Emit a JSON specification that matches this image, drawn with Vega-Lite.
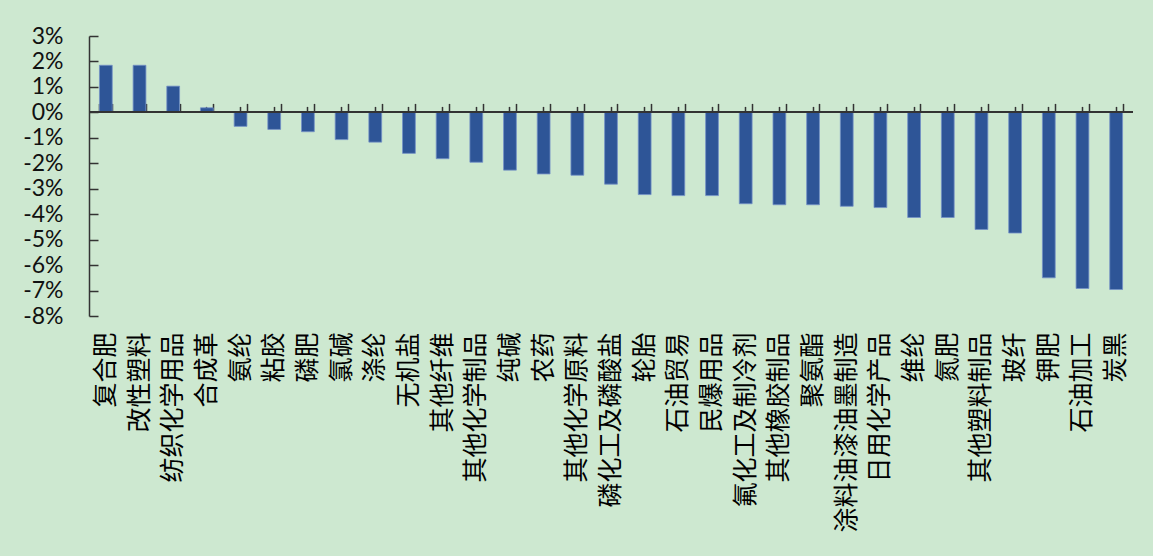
{
  "$schema": "https://vega.github.io/schema/vega-lite/v6.json",
  "width": 1044,
  "height": 280,
  "autosize": {"type": "none"},
  "padding": {"left": 89, "top": 36, "right": 20, "bottom": 240},
  "background": "#cde8d0",
  "config": {
    "view": {"stroke": null},
    "axis": {"grid": false},
    "axisY": {
      "labelOverlap": false,
      "labelFont": "Lato", "labelFontSize": 23, "labelColor": "#111",
      "domainColor": "#333", "domainWidth": 1.5,
      "tickColor": "#333", "tickWidth": 1.5, "tickSize": -9, "labelPadding": 35,
      "title": null
    }
  },
  "data": {
    "values": [
      {"industry": "复合肥", "change": 0.0185},
      {"industry": "改性塑料", "change": 0.0185},
      {"industry": "纺织化学用品", "change": 0.0103},
      {"industry": "合成革", "change": 0.0018},
      {"industry": "氨纶", "change": -0.0055},
      {"industry": "粘胶", "change": -0.0067},
      {"industry": "磷肥", "change": -0.0076},
      {"industry": "氯碱", "change": -0.0107},
      {"industry": "涤纶", "change": -0.0117},
      {"industry": "无机盐", "change": -0.0161},
      {"industry": "其他纤维", "change": -0.0182},
      {"industry": "其他化学制品", "change": -0.0196},
      {"industry": "纯碱", "change": -0.0227},
      {"industry": "农药", "change": -0.0242},
      {"industry": "其他化学原料", "change": -0.0247},
      {"industry": "磷化工及磷酸盐", "change": -0.0282},
      {"industry": "轮胎", "change": -0.0323},
      {"industry": "石油贸易", "change": -0.0327},
      {"industry": "民爆用品", "change": -0.0327},
      {"industry": "氟化工及制冷剂", "change": -0.0359},
      {"industry": "其他橡胶制品", "change": -0.0363},
      {"industry": "聚氨酯", "change": -0.0363},
      {"industry": "涂料油漆油墨制造", "change": -0.0369},
      {"industry": "日用化学产品", "change": -0.0374},
      {"industry": "维纶", "change": -0.0413},
      {"industry": "氮肥", "change": -0.0413},
      {"industry": "其他塑料制品", "change": -0.046},
      {"industry": "玻纤", "change": -0.0474},
      {"industry": "钾肥", "change": -0.065},
      {"industry": "石油加工", "change": -0.0692},
      {"industry": "炭黑", "change": -0.0696}
    ]
  },
  "layer": [
    {
      "mark": {"type": "bar", "color": "#2e5597", "stroke": "#7391c6", "strokeWidth": 0.8},
      "encoding": {
        "x": {
          "field": "industry", "type": "nominal", "sort": null,
          "scale": {"paddingInner": 0.62, "paddingOuter": 0.31},
          "axis": {
            "title": null, "labelAngle": -90, "labelFont": "Noto Sans CJK SC",
            "labelFontSize": 25, "labelColor": "#000", "labelPadding": 16,
            "ticks": false, "domain": false, "labelLimit": 400
          }
        },
        "y": {
          "field": "change", "type": "quantitative",
          "scale": {"domain": [-0.08, 0.03], "nice": false},
          "axis": {
            "title": null,
            "tickCount": 11,
            "labelExpr": "(datum.value < -0.0001 ? '-' : '') + format(abs(datum.value), '.0%')"
          }
        }
      }
    },
    {
      "mark": {"type": "rule", "color": "#333", "strokeWidth": 1.5},
      "encoding": {"y": {"datum": 0}}
    },
    {
      "mark": {"type": "bar", "opacity": 0},
      "encoding": {
        "x": {
          "field": "industry", "type": "nominal", "sort": null,
          "axis": {
            "title": null, "orient": "bottom", "offset": -203.6, "labels": false, "domain": false,
            "tickSize": -6, "tickColor": "#333", "tickWidth": 1.5
          }
        }
      }
    },
    {
      "mark": {"type": "bar", "opacity": 0},
      "encoding": {
        "x": {
          "field": "industry", "type": "nominal", "sort": null,
          "axis": {
            "title": null, "orient": "bottom", "offset": -203.6, "labels": false, "domain": false,
            "tickBand": "extent", "tickSize": -9, "tickColor": "#333", "tickWidth": 1.5
          }
        }
      }
    }
  ],
  "resolve": {"axis": {"x": "independent"}}
}
